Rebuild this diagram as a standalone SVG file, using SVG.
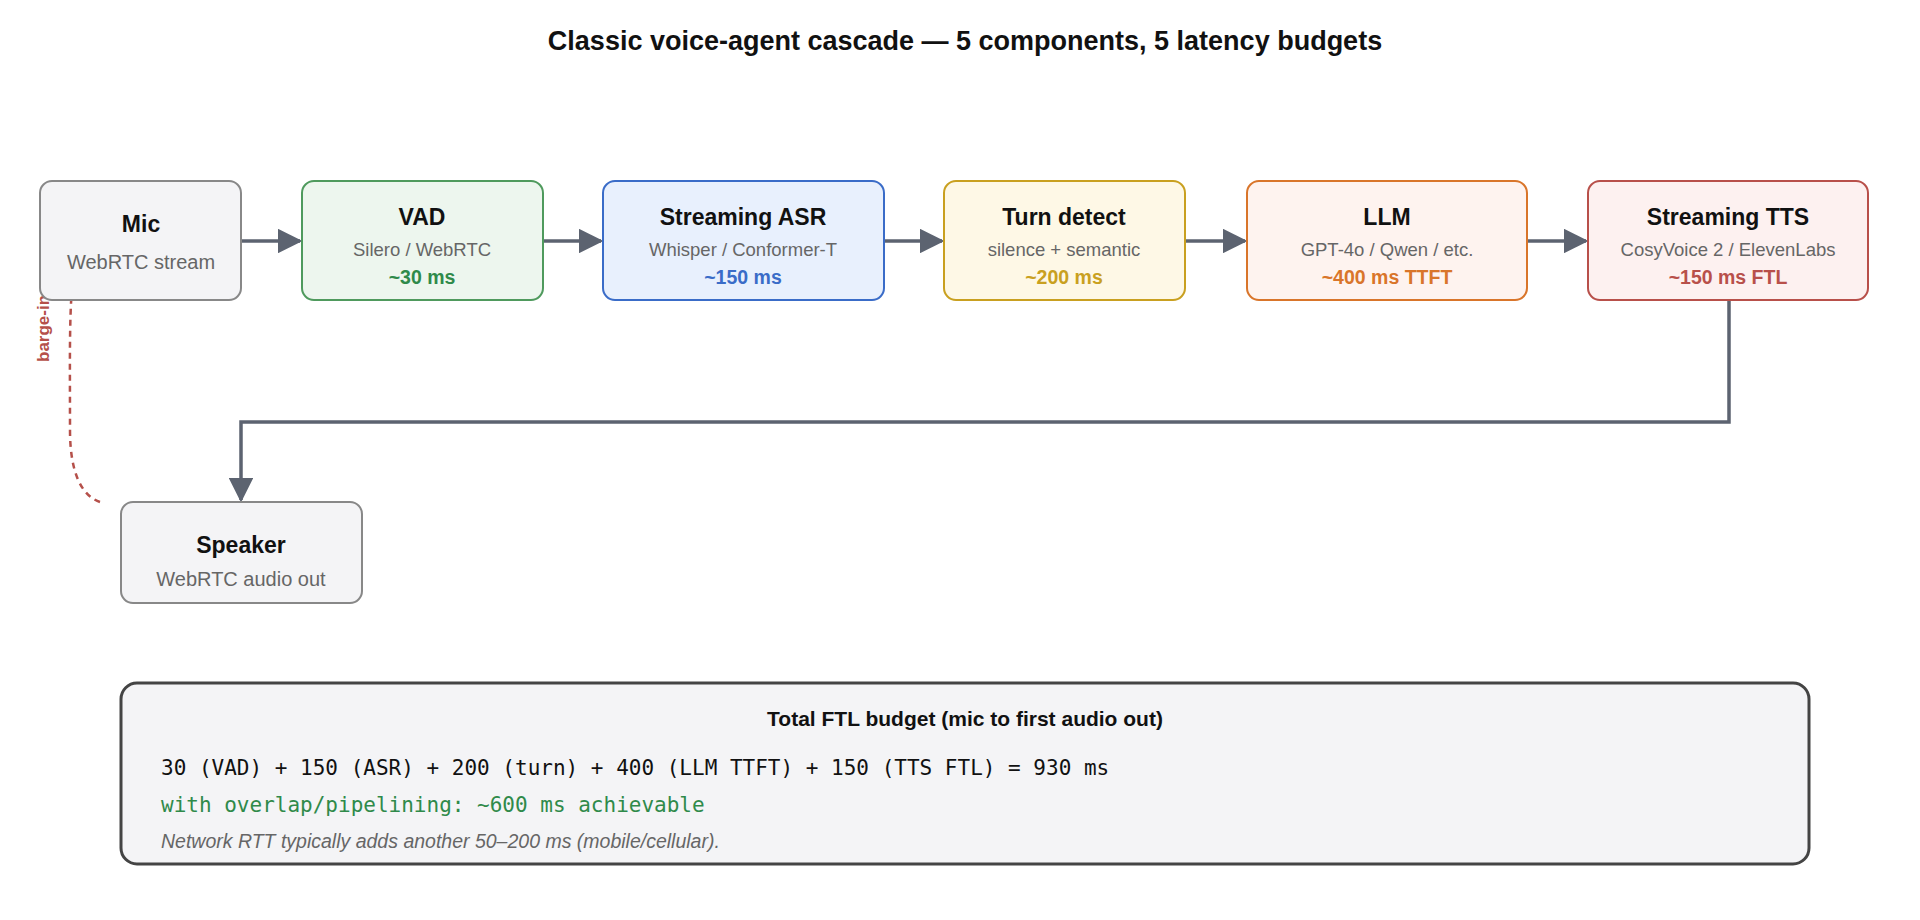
<svg xmlns="http://www.w3.org/2000/svg" width="1920" height="920" viewBox="0 0 1920 920">
<style>
text{font-family:"Liberation Sans",Arial,sans-serif;text-anchor:middle}
.t{font-size:23px;font-weight:bold;fill:#111}
.s{font-size:18.5px;fill:#666}
.m{font-size:19.5px;font-weight:bold}
.box{stroke-width:2}
.c{fill:none;stroke:#5c6370;stroke-width:3.5}
.mono{font-family:"DejaVu Sans Mono","Liberation Mono",monospace;font-size:21px;text-anchor:start}
</style>
<defs>
<marker id="ar" viewBox="0 0 10 10" refX="9" refY="5" markerWidth="6.5" markerHeight="6.5" orient="auto" markerUnits="userSpaceOnUse" >
<path d="M0,0L10,5L0,10z" fill="#5c6370"/>
</marker>
<marker id="a" viewBox="0 0 10 10" refX="9" refY="5" markerWidth="7" markerHeight="7" orient="auto"><path d="M0,0L10,5L0,10z" fill="#5c6370"/></marker>
</defs>
<rect width="1920" height="920" fill="#fff"/>
<text x="965" y="50" style="font-size:27px;font-weight:bold;fill:#111">Classic voice-agent cascade — 5 components, 5 latency budgets</text>

<g id="connectors">
<path class="c" d="M241,241H300" marker-end="url(#a)"/>
<path class="c" d="M543,241H601" marker-end="url(#a)"/>
<path class="c" d="M884,241H942" marker-end="url(#a)"/>
<path class="c" d="M1185,241H1245" marker-end="url(#a)"/>
<path class="c" d="M1527,241H1586" marker-end="url(#a)"/>
<path class="c" d="M1729,300V422H241V500" marker-end="url(#a)"/>
<path d="M100,502C80,495 70,470 70,430C70,330 68,270 82,243" fill="none" stroke="#b5504a" stroke-width="2.5" stroke-dasharray="6,5"/>
<path d="M84,231L102,240L84,249z" fill="#5c6370"/>
<text transform="translate(49,362) rotate(-90)" style="font-size:17px;font-weight:bold;fill:#b5504a;text-anchor:start">barge-in</text>
</g>

<g id="mic"><rect class="box" x="40" y="181" width="201" height="119" rx="12" fill="#f4f4f6" stroke="#888"/>
<text class="t" x="141" y="232">Mic</text><text class="s" x="141" y="269" style="font-size:20px">WebRTC stream</text></g>
<g id="vad"><rect class="box" x="302" y="181" width="241" height="119" rx="12" fill="#edf6ee" stroke="#4f9a5d"/>
<text class="t" x="422" y="225">VAD</text><text class="s" x="422" y="256">Silero / WebRTC</text><text class="m" x="422" y="284" fill="#2f8a4a">~30 ms</text></g>
<g id="asr"><rect class="box" x="603" y="181" width="281" height="119" rx="12" fill="#e8f0fd" stroke="#3a6cc8"/>
<text class="t" x="743" y="225">Streaming ASR</text><text class="s" x="743" y="256">Whisper / Conformer-T</text><text class="m" x="743" y="284" fill="#3a6cc8">~150 ms</text></g>
<g id="turn"><rect class="box" x="944" y="181" width="241" height="119" rx="12" fill="#fef8e6" stroke="#c9a020"/>
<text class="t" x="1064" y="225">Turn detect</text><text class="s" x="1064" y="256">silence + semantic</text><text class="m" x="1064" y="284" fill="#c9a020">~200 ms</text></g>
<g id="llm"><rect class="box" x="1247" y="181" width="280" height="119" rx="12" fill="#fef3ef" stroke="#d9752a"/>
<text class="t" x="1387" y="225">LLM</text><text class="s" x="1387" y="256">GPT-4o / Qwen / etc.</text><text class="m" x="1387" y="284" fill="#d9752a">~400 ms TTFT</text></g>
<g id="tts"><rect class="box" x="1588" y="181" width="280" height="119" rx="12" fill="#fdf1f0" stroke="#b8504a"/>
<text class="t" x="1728" y="225">Streaming TTS</text><text class="s" x="1728" y="256">CosyVoice 2 / ElevenLabs</text><text class="m" x="1728" y="284" fill="#b8504a">~150 ms FTL</text></g>
<g id="speaker"><rect class="box" x="121" y="502" width="241" height="101" rx="12" fill="#f4f4f6" stroke="#888"/>
<text class="t" x="241" y="553">Speaker</text><text class="s" x="241" y="586" style="font-size:20px">WebRTC audio out</text></g>

<g id="budget"><rect x="121" y="683" width="1688" height="181" rx="16" fill="#f4f4f6" stroke="#444" stroke-width="3"/>
<text x="965" y="726" style="font-size:21px;font-weight:bold;fill:#111">Total FTL budget (mic to first audio out)</text>
<text class="mono" x="161" y="775" fill="#111">30 (VAD) + 150 (ASR) + 200 (turn) + 400 (LLM TTFT) + 150 (TTS FTL) = 930 ms</text>
<text class="mono" x="161" y="812" fill="#2f8a4a">with overlap/pipelining: ~600 ms achievable</text>
<text x="161" y="848" style="font-size:19.5px;font-style:italic;fill:#666;text-anchor:start">Network RTT typically adds another 50–200 ms (mobile/cellular).</text></g>
</svg>
